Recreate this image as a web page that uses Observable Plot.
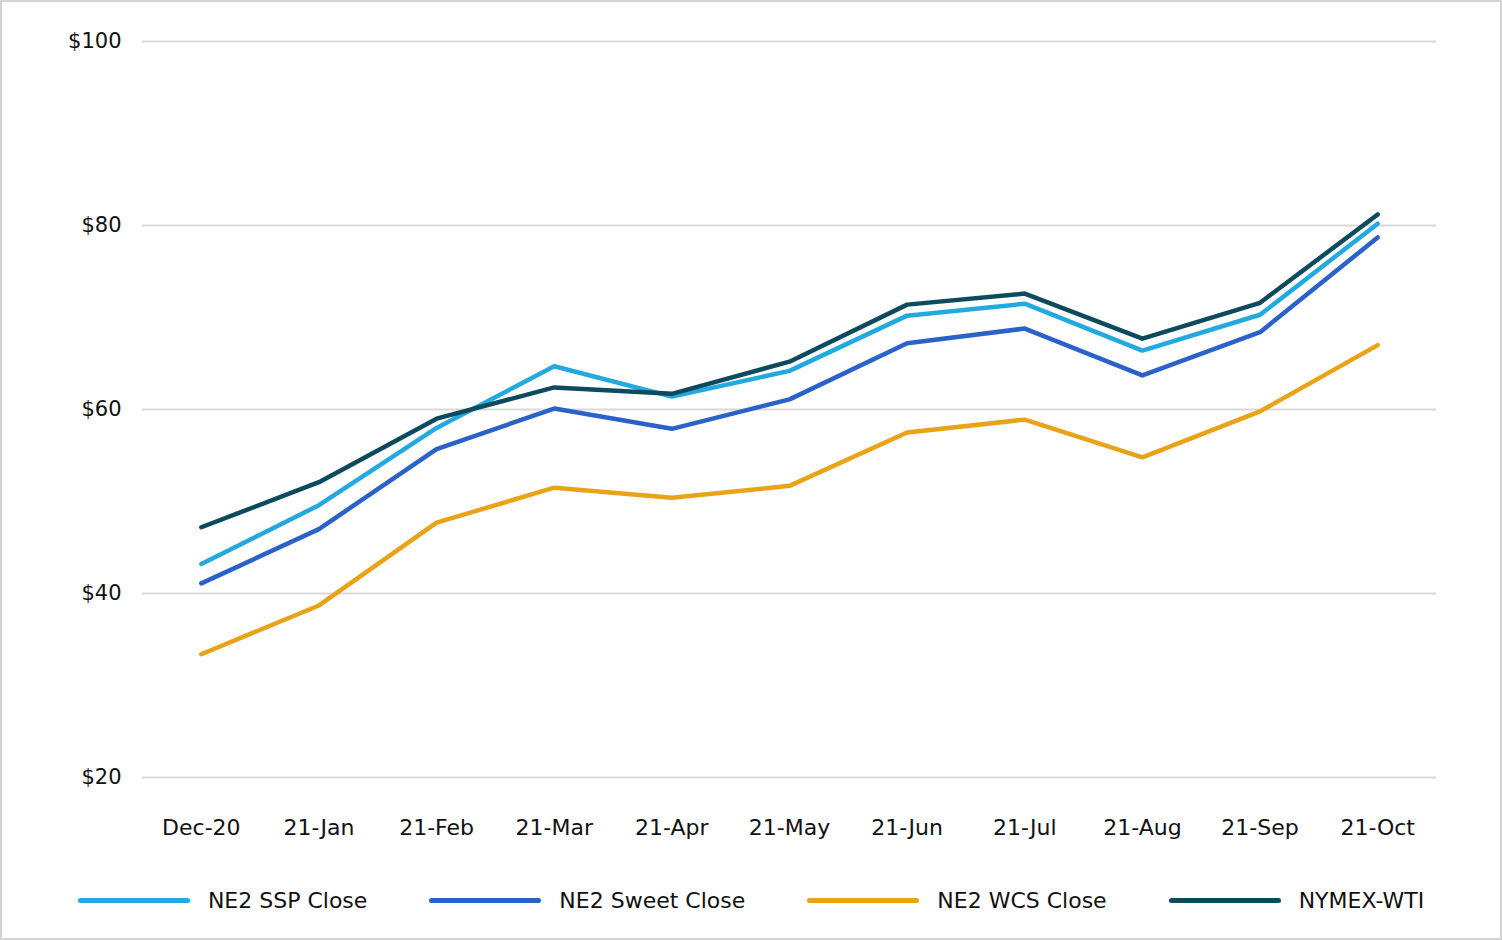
<!DOCTYPE html>
<html>
<head>
<meta charset="utf-8">
<script src="https://cdn.jsdelivr.net/npm/d3@7"></script>
<script src="https://cdn.jsdelivr.net/npm/@observablehq/plot@0.6"></script>
<style>
  html, body { margin: 0; padding: 0; background: #fff; }
  #frame { width: 1502px; height: 940px; box-sizing: border-box; border: 2px solid #d4d4d4; position: relative; font-family: "DejaVu Sans", sans-serif; }
  #chart svg { display: block; }
  #legend { position: absolute; top: 886px; left: 0; width: 1498px; display: flex; justify-content: center; gap: 62px; font-size: 22px; color: #111; }
  .item { display: flex; align-items: center; }
  .swatch { width: 112px; height: 5px; border-radius: 3px; margin-right: 18px; }
</style>
</head>
<body>
<div id="frame">
  <div id="chart"></div>
  <div id="legend"></div>
</div>
<script>
const months = ["Dec-20","21-Jan","21-Feb","21-Mar","21-Apr","21-May","21-Jun","21-Jul","21-Aug","21-Sep","21-Oct"];
const seriesNames = ["NE2 SSP Close","NE2 Sweet Close","NE2 WCS Close","NYMEX-WTI"];
const seriesColors = ["#22a9e0","#2a62c9","#e8a317","#0d4a5e"];
const ssp   = [43.2, 49.6, 58.0, 64.7, 61.4, 64.2, 70.2, 71.5, 66.4, 70.3, 80.2];
const sweet = [41.1, 47.0, 55.7, 60.1, 57.9, 61.1, 67.2, 68.8, 63.7, 68.4, 78.7];
const wcs   = [33.4, 38.7, 47.7, 51.5, 50.4, 51.7, 57.5, 58.9, 54.8, 59.8, 67.0];
const wti   = [47.2, 52.1, 59.0, 62.4, 61.7, 65.2, 71.4, 72.6, 67.7, 71.6, 81.2];
const yTicks = [20, 40, 60, 80, 100];

const seriesValues = [ssp, sweet, wcs, wti];
const data = [];
seriesNames.forEach((name, i) => {
  months.forEach((m, j) => data.push({series: name, month: m, value: seriesValues[i][j]}));
});

const chart = Plot.plot({
  width: 1498,
  height: 860,
  marginLeft: 140,
  marginRight: 64,
  marginTop: 39,
  marginBottom: 85,
  style: {fontFamily: "DejaVu Sans, sans-serif", fontSize: "22px", color: "#111", background: "#fff"},
  x: {type: "point", domain: months, padding: 0.5, round: false, label: null},
  y: {domain: [20, 100], label: null},
  color: {domain: seriesNames, range: seriesColors},
  marks: [
    Plot.ruleY(yTicks, {stroke: "#d9d9d9", strokeWidth: 2}),
    Plot.axisY({ticks: yTicks, tickSize: 0, tickPadding: 21, tickFormat: d => "$" + d, fontSize: 21}),
    Plot.axisX({tickSize: 0, tickPadding: 42}),
    Plot.line(data, {x: "month", y: "value", z: "series", stroke: "series", strokeWidth: 4.5, strokeLinecap: "round", strokeLinejoin: "round"})
  ]
});
document.getElementById("chart").appendChild(chart);

const legend = document.getElementById("legend");
seriesNames.forEach((name, i) => {
  const item = document.createElement("div");
  item.className = "item";
  const sw = document.createElement("div");
  sw.className = "swatch";
  sw.style.background = seriesColors[i];
  const label = document.createElement("span");
  label.textContent = name;
  item.appendChild(sw);
  item.appendChild(label);
  legend.appendChild(item);
});
</script>
</body>
</html>
